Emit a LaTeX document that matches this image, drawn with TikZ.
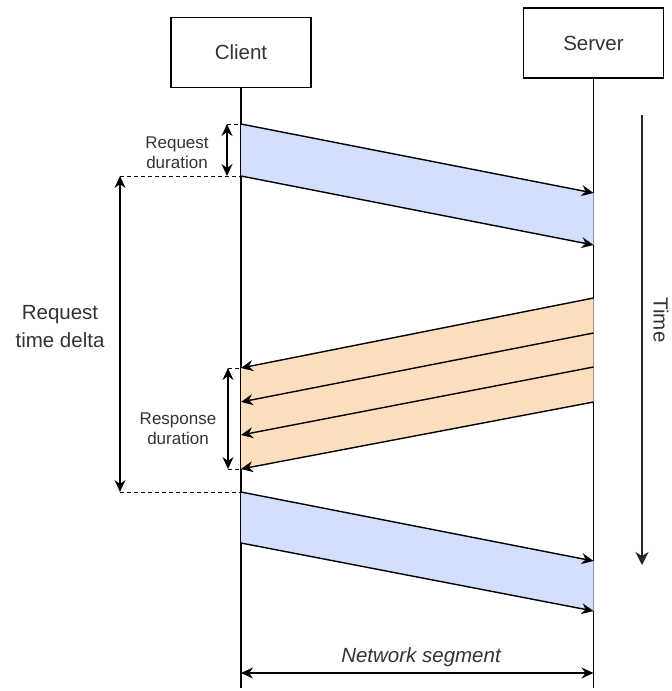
\documentclass[tikz,border=0pt]{standalone}
\usepackage{fontspec}
\setmainfont{Liberation Sans}
\usetikzlibrary{arrows.meta}
\definecolor{reqfill}{RGB}{212,222,253}
\definecolor{respfill}{RGB}{253,222,191}
\definecolor{labelgray}{RGB}{51,51,51}
\begin{document}
\begin{tikzpicture}[x=1pt,y=-1pt,line width=1.4pt,
  head/.tip={Stealth[length=12pt,width=11pt,inset=4pt]},
  msg/.style={-head},
  span/.style={head-head},
  guide/.style={line width=1pt,dash pattern=on 4pt off 3pt},
  actor/.style={draw,minimum width=140pt,minimum height=70pt,inner sep=0pt,
    text=labelgray,font=\fontsize{20.5}{24}\selectfont},
  biglabel/.style={align=center,text=labelgray,font=\fontsize{20.5}{28}\selectfont},
  smalllabel/.style={align=center,text=labelgray,font=\fontsize{17}{20}\selectfont}]
\useasboundingbox (0,0) rectangle (672,691);

% participants and lifelines
\node[actor] (client) at (241,52.5) {Client};
\node[actor] (server) at (593.5,43) {Server};
\coordinate (clientend) at (241,688);
\coordinate (serverend) at (593.5,688);
\draw (client.south) -- (clientend);
\draw (server.south) -- (serverend);

% first request
\coordinate (rqa1) at (241,124);  \coordinate (rqa2) at (593.5,193);
\coordinate (rqb1) at (241,176);  \coordinate (rqb2) at (593.5,245);
\fill[reqfill] (rqa1) -- (rqa2) -- (rqb2) -- (rqb1) -- cycle;
\draw[msg] (rqa1) -- (rqa2);
\draw[msg] (rqb1) -- (rqb2);

% response packets
\coordinate (rs1s) at (593.5,298); \coordinate (rs1c) at (241,368);
\coordinate (rs2s) at (593.5,333); \coordinate (rs2c) at (241,402);
\coordinate (rs3s) at (593.5,367); \coordinate (rs3c) at (241,435);
\coordinate (rs4s) at (593.5,402); \coordinate (rs4c) at (241,469);
\fill[respfill] (rs1s) -- (rs4s) -- (rs4c) -- (rs1c) -- cycle;
\draw[msg] (rs1s) -- (rs1c);
\draw[msg] (rs2s) -- (rs2c);
\draw[msg] (rs3s) -- (rs3c);
\draw[msg] (rs4s) -- (rs4c);

% next request
\coordinate (nqa1) at (241,492);  \coordinate (nqa2) at (593.5,561);
\coordinate (nqb1) at (241,543);  \coordinate (nqb2) at (593.5,611);
\fill[reqfill] (nqa1) -- (nqa2) -- (nqb2) -- (nqb1) -- cycle;
\draw[msg] (nqa1) -- (nqa2);
\draw[msg] (nqb1) -- (nqb2);

% request duration
\coordinate (rdtop) at (227,124);
\coordinate (rdbot) at (227,176);
\draw[guide] (rdtop) -- (rqa1);
\draw[span] (rdtop) -- (rdbot);
\node[smalllabel] (rdlabel) at (177,153) {Request\\duration};

% request time delta
\coordinate (tdtop) at (120,176);
\coordinate (tdbot) at (120,492);
\draw[guide] (tdtop) -- (rqb1);
\draw[guide] (tdbot) -- (nqa1);
\draw[span] (tdtop) -- (tdbot);
\node[biglabel] (tdlabel) at (60,327) {Request\\time delta};

% response duration
\coordinate (pdtop) at (228,368);
\coordinate (pdbot) at (228,469);
\draw[guide] (pdtop) -- (rs1c);
\draw[guide] (pdbot) -- (rs4c);
\draw[span] (pdtop) -- (pdbot);
\node[smalllabel] (pdlabel) at (178,429) {Response\\duration};

% time axis
\coordinate (timetop) at (642,115);
\coordinate (timebot) at (642,565);
\draw[black!85,line width=1.3pt,-{Stealth[length=13pt,width=13pt,inset=4pt]}] (timetop) -- (timebot);
\node[biglabel,rotate=-90] (timelabel) at (661,320) {Time};

% network segment
\coordinate (netl) at (241,673);
\coordinate (netr) at (593.5,673);
\draw[span] (netl) -- (netr);
\node[biglabel,font=\fontsize{20.5}{24}\selectfont\itshape] (netlabel) at (421,657) {Network segment};
\end{tikzpicture}
\end{document}
